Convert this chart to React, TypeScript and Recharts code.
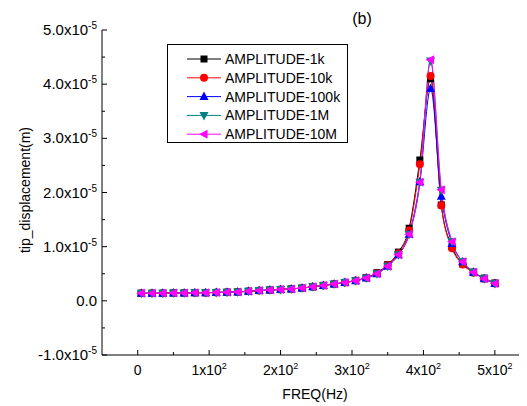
import React from 'react';
import { LineChart, Line, XAxis, YAxis } from 'recharts';

// Frequencies (Hz)
const freqs = [5, 20, 35, 50, 65, 80, 95, 110, 125, 140, 155, 170, 185, 200, 215, 230, 245, 260, 275, 290, 305, 320, 335, 350, 365, 380, 395, 410, 425, 440, 455, 470, 485, 500];

// Tip displacement values, in units of 1e-5 m
const amp1k = [0.14, 0.14, 0.14, 0.145, 0.145, 0.15, 0.15, 0.155, 0.16, 0.165, 0.175, 0.19, 0.2, 0.21, 0.22, 0.235, 0.26, 0.285, 0.31, 0.34, 0.375, 0.43, 0.52, 0.67, 0.9, 1.34, 2.6, 4.1, 1.77, 1.0, 0.68, 0.53, 0.42, 0.33];
const amp10k = [0.14, 0.14, 0.14, 0.145, 0.145, 0.15, 0.15, 0.155, 0.16, 0.165, 0.175, 0.19, 0.2, 0.21, 0.22, 0.235, 0.26, 0.285, 0.31, 0.34, 0.375, 0.425, 0.51, 0.66, 0.88, 1.3, 2.52, 4.15, 1.76, 0.97, 0.67, 0.52, 0.41, 0.32];
const amp100k = [0.14, 0.14, 0.14, 0.145, 0.145, 0.15, 0.15, 0.155, 0.16, 0.165, 0.175, 0.19, 0.2, 0.21, 0.22, 0.235, 0.26, 0.285, 0.31, 0.34, 0.37, 0.42, 0.5, 0.64, 0.85, 1.23, 2.2, 3.92, 1.93, 1.06, 0.72, 0.53, 0.41, 0.32];
const amp1M = [0.14, 0.14, 0.14, 0.145, 0.145, 0.15, 0.15, 0.155, 0.16, 0.165, 0.175, 0.19, 0.2, 0.21, 0.22, 0.235, 0.26, 0.285, 0.31, 0.34, 0.37, 0.42, 0.5, 0.64, 0.85, 1.23, 2.19, 4.43, 2.04, 1.09, 0.72, 0.53, 0.41, 0.32];
const amp10M = [0.14, 0.14, 0.14, 0.145, 0.145, 0.15, 0.15, 0.155, 0.16, 0.165, 0.175, 0.19, 0.2, 0.21, 0.22, 0.235, 0.26, 0.285, 0.31, 0.34, 0.37, 0.42, 0.5, 0.64, 0.85, 1.23, 2.19, 4.45, 2.05, 1.09, 0.72, 0.53, 0.41, 0.32];

const seriesNames = ['AMPLITUDE-1k', 'AMPLITUDE-10k', 'AMPLITUDE-100k', 'AMPLITUDE-1M', 'AMPLITUDE-10M'];
const seriesColors = ['#000000', '#ff0000', '#0000ff', '#008080', '#ff00ff'];
const seriesShapes = ['square', 'circle', 'up', 'down', 'left'];
const seriesValues = [amp1k, amp10k, amp100k, amp1M, amp10M];

// Ticks
const xTickValues = [0, 50, 100, 150, 200, 250, 300, 350, 400, 450, 500];
const xTickMajor = [0, 100, 200, 300, 400, 500];
const xTickMantissa = ['0', '1', '2', '3', '4', '5'];
const yTickValues = [-1, -0.5, 0, 0.5, 1, 1.5, 2, 2.5, 3, 3.5, 4, 4.5, 5];
const yTickMajor = [-1, 0, 1, 2, 3, 4, 5];
const yTickMantissa = ['-1.0', '0.0', '1.0', '2.0', '3.0', '4.0', '5.0'];

const FONT = "Arial, 'Liberation Sans', sans-serif";

const data = freqs.map((f, i) => {
  const row: any = { freq: f };
  seriesValues.forEach((vals, s) => {
    row['s' + s] = vals[i];
  });
  return row;
});

function Marker({ cx, cy, shape, color }: any) {
  if (cx == null || cy == null || isNaN(cx) || isNaN(cy)) return null;
  const r = 4;
  switch (shape) {
    case 'square':
      return <rect x={cx - 3.5} y={cy - 3.5} width={7} height={7} fill={color} />;
    case 'circle':
      return <circle cx={cx} cy={cy} r={r} fill={color} />;
    case 'up':
      return <polygon points={`${cx},${cy - 5} ${cx + 4.5},${cy + 3.5} ${cx - 4.5},${cy + 3.5}`} fill={color} />;
    case 'down':
      return <polygon points={`${cx},${cy + 5} ${cx + 4.5},${cy - 3.5} ${cx - 4.5},${cy - 3.5}`} fill={color} />;
    case 'left':
      return <polygon points={`${cx - 5},${cy} ${cx + 3.5},${cy - 4.5} ${cx + 3.5},${cy + 4.5}`} fill={color} />;
    default:
      return null;
  }
}

function YTick(props: any) {
  const { x, y, payload } = props;
  const v = payload.value;
  const idx = yTickMajor.indexOf(v);
  const major = idx >= 0;
  return (
    <g>
      <line x1={x} x2={x + (major ? 5 : 3)} y1={y} y2={y} stroke="#000" strokeWidth={1} />
      {major && (
        <text x={x - 5} y={y + 5} textAnchor="end" fontSize={15} fontFamily={FONT} fill="#000">
          {yTickMantissa[idx] === '0.0' ? (
            '0.0'
          ) : (
            <>
              <tspan>{yTickMantissa[idx] + 'x10'}</tspan>
              <tspan dy={-6} fontSize={10}>-5</tspan>
            </>
          )}
        </text>
      )}
    </g>
  );
}

function XTick(props: any) {
  const { x, y, payload } = props;
  const v = payload.value;
  const idx = xTickMajor.indexOf(v);
  const major = idx >= 0;
  return (
    <g>
      <line x1={x} x2={x} y1={y} y2={y - (major ? 5 : 3)} stroke="#000" strokeWidth={1} />
      {major && (
        <text x={x} y={y + 20} textAnchor="middle" fontSize={14} fontFamily={FONT} fill="#000">
          {xTickMantissa[idx] === '0' ? (
            '0'
          ) : (
            <>
              <tspan>{xTickMantissa[idx] + 'x10'}</tspan>
              <tspan dy={-6} fontSize={9}>2</tspan>
            </>
          )}
        </text>
      )}
    </g>
  );
}

function LegendBox() {
  const rowH = 18.8;
  return (
    <svg
      width={182}
      height={100}
      style={{ position: 'absolute', left: 159, top: 36, pointerEvents: 'none' }}
    >
      <rect x={0.5} y={0.5} width={180} height={98} fill="#fff" stroke="#000" strokeWidth={1} />
      {seriesNames.map((name, i) => {
        const cy = 15 + i * rowH;
        return (
          <g key={name}>
            <line x1={20} x2={54} y1={cy} y2={cy} stroke={seriesColors[i]} strokeWidth={1} />
            <Marker cx={37} cy={cy} shape={seriesShapes[i]} color={seriesColors[i]} />
            <text x={58} y={cy + 5} fontSize={14} fontFamily={FONT} fill="#000">
              {name}
            </text>
          </g>
        );
      })}
    </svg>
  );
}

export default function App() {
  return (
    <div style={{ position: 'relative', width: 519, height: 398 }}>
      <LineChart
        width={519}
        height={398}
        data={data}
        margin={{ top: 22, right: 0, bottom: 0, left: 0 }}
      >
        <XAxis
          dataKey="freq"
          type="number"
          domain={[-50, 545]}
          allowDataOverflow
          ticks={xTickValues}
          interval={0}
          height={51}
          tickSize={0}
          tickMargin={0}
          tickLine={false}
          axisLine={{ stroke: '#000', strokeWidth: 1 }}
          tick={<XTick />}
        />
        <YAxis
          type="number"
          domain={[-1, 5]}
          allowDataOverflow
          ticks={yTickValues}
          interval={0}
          width={94}
          tickSize={0}
          tickMargin={0}
          tickLine={false}
          axisLine={{ stroke: '#000', strokeWidth: 1 }}
          tick={<YTick />}
        />
        {seriesNames.map((name, i) => (
          <Line
            key={name}
            dataKey={'s' + i}
            name={name}
            type="monotone"
            stroke={seriesColors[i]}
            strokeWidth={1}
            isAnimationActive={false}
            dot={(p: any) => (
              <Marker key={name + p.index} cx={p.cx} cy={p.cy} shape={seriesShapes[i]} color={seriesColors[i]} />
            )}
            activeDot={false}
          />
        ))}
      </LineChart>
      <svg
        width={519}
        height={398}
        style={{ position: 'absolute', left: 0, top: 0, pointerEvents: 'none' }}
      >
        <text x={354} y={16} textAnchor="middle" fontSize={16} fontFamily={FONT} fill="#000">
          (b)
        </text>
        <text
          x={0}
          y={0}
          transform="translate(22,182) rotate(-90)"
          textAnchor="middle"
          fontSize={14}
          fontFamily={FONT}
          fill="#000"
        >
          tip_displacement(m)
        </text>
        <text x={307} y={391} textAnchor="middle" fontSize={14} fontFamily={FONT} fill="#000">
          FREQ(Hz)
        </text>
      </svg>
      <LegendBox />
    </div>
  );
}
